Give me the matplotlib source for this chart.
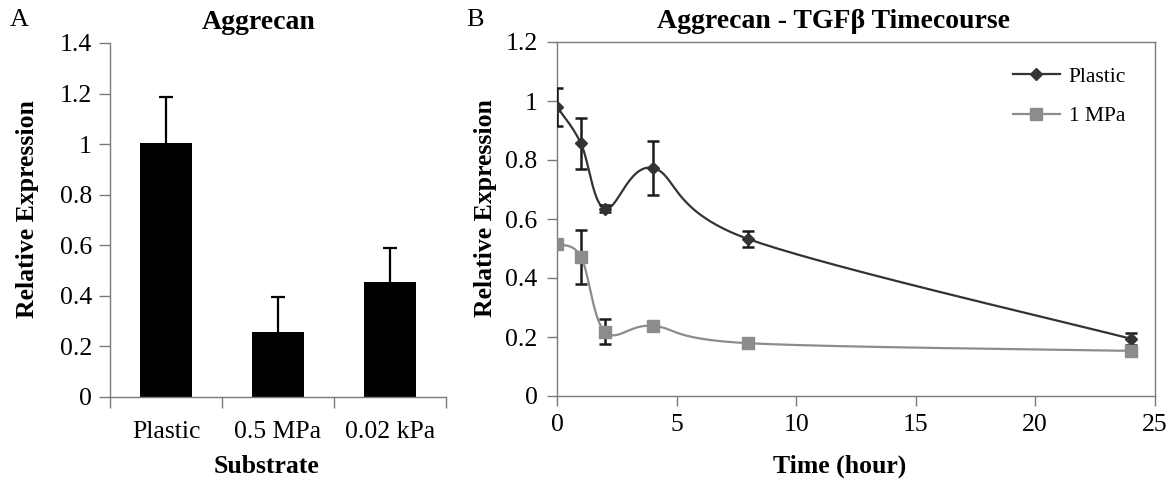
"""Aggrecan expression: bar chart by substrate (A) and TGFb timecourse (B)."""
import matplotlib
matplotlib.use("Agg")
import matplotlib.pyplot as plt
import numpy as np

plt.rcParams["font.family"] = ["Liberation Serif", "DejaVu Serif"]

# Panel A data
substrates = ["Plastic", "0.5 MPa", "0.02 kPa"]
bar_vals = [1.005, 0.255, 0.455]
bar_err = [0.18, 0.14, 0.133]

# Panel B data
hours = [0, 1, 2, 4, 8, 24]
plastic_vals = [0.98, 0.856, 0.635, 0.773, 0.532, 0.194]
plastic_err = [0.065, 0.085, 0.012, 0.09, 0.028, 0.02]
mpa_vals = [0.515, 0.472, 0.218, 0.238, 0.179, 0.153]
mpa_err = [0.01, 0.092, 0.042, 0.01, 0.008, 0.008]

SPINE = "#7a7a7a"
DARK = "#333333"
GRAY = "#8c8c8c"
TICK_FS = 18.5
LABEL_FS = 18.5
TITLE_FS = 20


def smooth(x, y, n=40):
    # Excel-style smoothed line (Catmull-Rom as cubic Bezier)
    p = np.column_stack([x, y]).astype(float)
    pts = np.vstack([p[0], p, p[-1]])
    out = []
    t = np.linspace(0, 1, n)[:, None]
    for i in range(1, len(pts) - 2):
        p0, p1, p2, p3 = pts[i - 1], pts[i], pts[i + 1], pts[i + 2]
        b1 = p1 + (p2 - p0) / 6
        b2 = p2 - (p3 - p1) / 6
        seg = ((1 - t) ** 3) * p1 + 3 * ((1 - t) ** 2) * t * b1 \
            + 3 * (1 - t) * t ** 2 * b2 + t ** 3 * p2
        out.append(seg)
    s = np.vstack(out)
    return s[:, 0], s[:, 1]


def style_axes(ax):
    for sp in ax.spines.values():
        sp.set_color(SPINE)
        sp.set_linewidth(1.0)
    ax.tick_params(colors=SPINE, labelcolor="black", labelsize=TICK_FS,
                   direction="out", width=1.0)


fig = plt.figure(figsize=(11.72, 4.8), dpi=100)

# ---- Panel A ----
axA = fig.add_axes([0.0939, 0.173, 0.2867, 0.7375])
xa = np.arange(len(substrates))
axA.bar(xa, bar_vals, width=0.47, color="black", zorder=2)
_, caps, _ = axA.errorbar(xa, bar_vals, yerr=[np.zeros(3), bar_err], fmt="none",
                          ecolor="black", elinewidth=1.6, capsize=4.8,
                          capthick=1.6, zorder=3)
caps[0].set_visible(False)  # only the upper whisker, as in the original
axA.set_xlim(-0.5, 2.5)
axA.set_ylim(0, 1.4)
axA.set_yticks(np.arange(0, 1.41, 0.2))
axA.set_yticklabels(["0", "0.2", "0.4", "0.6", "0.8", "1", "1.2", "1.4"])
axA.set_xticks(xa)
axA.set_xticklabels(substrates)
axA.set_xticks([-0.5, 0.5, 1.5, 2.5], minor=True)
style_axes(axA)
axA.spines["top"].set_visible(False)
axA.spines["right"].set_visible(False)
axA.tick_params(axis="x", which="major", length=0, pad=17)
axA.tick_params(axis="x", which="minor", length=8, color=SPINE, width=1.0)
axA.tick_params(axis="y", length=8, pad=5)
axA.set_xlabel("Substrate", fontsize=LABEL_FS, fontweight="bold")
axA.xaxis.set_label_coords(0.467, -0.165)
axA.set_ylabel("Relative Expression", fontsize=LABEL_FS, fontweight="bold")
axA.yaxis.set_label_coords(-0.21, 0.53)
axA.text(0.443, 1.058, "Aggrecan", transform=axA.transAxes, ha="center",
         va="center", fontsize=TITLE_FS, fontweight="bold")
fig.text(0.016, 0.958, "A", fontsize=19, ha="center", va="center")

# ---- Panel B ----
axB = fig.add_axes([0.4753, 0.175, 0.510, 0.7375])
sx, sy = smooth(hours, plastic_vals)
axB.plot(sx, sy, color=DARK, lw=1.6, zorder=2)
sx, sy = smooth(hours, mpa_vals)
axB.plot(sx, sy, color=GRAY, lw=1.6, zorder=2)
axB.errorbar(hours, plastic_vals, yerr=plastic_err, fmt="none", ecolor="#1a1a1a",
             elinewidth=1.8, capsize=4, capthick=1.8, zorder=3)
axB.errorbar(hours, mpa_vals, yerr=mpa_err, fmt="none", ecolor="#1a1a1a",
             elinewidth=1.8, capsize=4, capthick=1.8, zorder=3)
axB.plot(hours, plastic_vals, ls="none", marker="D", ms=6, color=DARK, zorder=4)
axB.plot(hours, mpa_vals, ls="none", marker="s", ms=8, color=GRAY, zorder=4)
# legend proxies
axB.plot([], [], color=DARK, lw=1.6, marker="D", ms=6, label="Plastic")
axB.plot([], [], color=GRAY, lw=1.6, marker="s", ms=8, label="1 MPa")
axB.set_xlim(0, 25)
axB.set_ylim(0, 1.2)
axB.set_xticks(np.arange(0, 26, 5))
axB.set_yticks(np.arange(0, 1.21, 0.2))
axB.set_yticklabels(["0", "0.2", "0.4", "0.6", "0.8", "1", "1.2"])
style_axes(axB)
axB.tick_params(axis="x", length=7, pad=6)
axB.tick_params(axis="y", length=7, pad=7)
axB.set_xlabel("Time (hour)", fontsize=LABEL_FS, fontweight="bold")
axB.xaxis.set_label_coords(0.473, -0.165)
axB.set_ylabel("Relative Expression", fontsize=LABEL_FS, fontweight="bold")
axB.yaxis.set_label_coords(-0.10, 0.53)
axB.text(0.463, 1.058, "Aggrecan - TGF\u03b2 Timecourse", transform=axB.transAxes,
         ha="center", va="center", fontsize=TITLE_FS, fontweight="bold")
fig.text(0.405, 0.958, "B", fontsize=19, ha="center", va="center")
axB.legend(loc="upper left", bbox_to_anchor=(0.748, 0.955), borderaxespad=0,
           frameon=False, fontsize=15.5, handlelength=2.2, handletextpad=0.4,
           labelspacing=0.9)

fig.savefig("out.png", dpi=100)
